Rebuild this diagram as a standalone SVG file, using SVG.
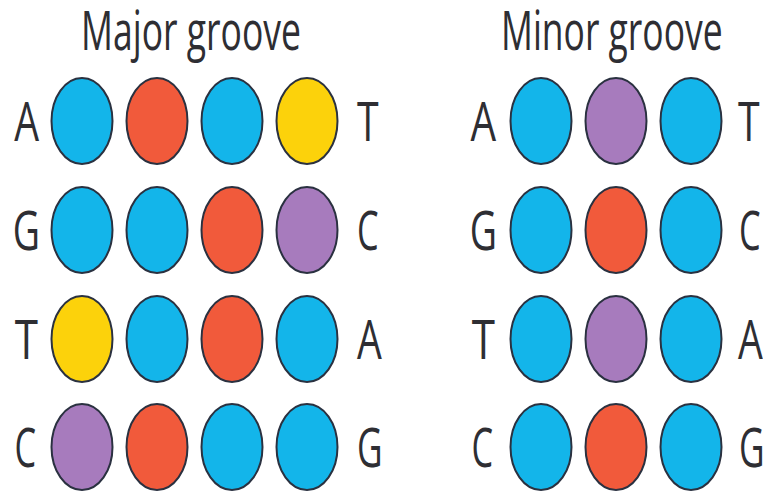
<svg xmlns="http://www.w3.org/2000/svg" width="763" height="493" viewBox="0 0 763 493">
  <style>
    text { font-family: "Open Sans", "Liberation Sans", sans-serif; font-size: 54px; font-weight: 380; fill: #2e2e33; }
    .end { text-anchor: end; }
    ellipse { stroke: #2a3140; stroke-width: 2; }
    .b { fill: #13b5ea; }
    .r { fill: #f15a3b; }
    .y { fill: #fcd20b; }
    .p { fill: #a77bbd; }
  </style>
  <rect width="763" height="493" fill="#ffffff"/>

  <!-- Major groove panel; text is narrowed horizontally by scale(0.8,1) -->
  <g id="major">
    <text transform="translate(81,50) scale(0.8,1)" textLength="275" lengthAdjust="spacingAndGlyphs">Major groove</text>
    <g id="major-row1">
      <text class="end" transform="translate(39,141) scale(0.8,1)" textLength="31" lengthAdjust="spacingAndGlyphs">A</text>
      <ellipse class="b" cx="82" cy="121" rx="30.5" ry="43"/>
      <ellipse class="r" cx="157" cy="121" rx="30.5" ry="43"/>
      <ellipse class="b" cx="232" cy="121" rx="30.5" ry="43"/>
      <ellipse class="y" cx="307" cy="121" rx="30.5" ry="43"/>
      <text transform="translate(357,141) scale(0.8,1)" textLength="27" lengthAdjust="spacingAndGlyphs">T</text>
    </g>
    <g id="major-row2">
      <text class="end" transform="translate(40,250) scale(0.8,1)" textLength="34" lengthAdjust="spacingAndGlyphs">G</text>
      <ellipse class="b" cx="82" cy="230" rx="30.5" ry="43"/>
      <ellipse class="b" cx="157" cy="230" rx="30.5" ry="43"/>
      <ellipse class="r" cx="232" cy="230" rx="30.5" ry="43"/>
      <ellipse class="p" cx="307" cy="230" rx="30.5" ry="43"/>
      <text transform="translate(357,250) scale(0.8,1)" textLength="27" lengthAdjust="spacingAndGlyphs">C</text>
    </g>
    <g id="major-row3">
      <text class="end" transform="translate(38,359) scale(0.8,1)" textLength="29" lengthAdjust="spacingAndGlyphs">T</text>
      <ellipse class="y" cx="82" cy="339" rx="30.5" ry="43"/>
      <ellipse class="b" cx="157" cy="339" rx="30.5" ry="43"/>
      <ellipse class="r" cx="232" cy="339" rx="30.5" ry="43"/>
      <ellipse class="b" cx="307" cy="339" rx="30.5" ry="43"/>
      <text transform="translate(357,359) scale(0.8,1)" textLength="31" lengthAdjust="spacingAndGlyphs">A</text>
    </g>
    <g id="major-row4">
      <text class="end" transform="translate(36,467) scale(0.8,1)" textLength="27" lengthAdjust="spacingAndGlyphs">C</text>
      <ellipse class="p" cx="82" cy="447" rx="30.5" ry="43"/>
      <ellipse class="r" cx="157" cy="447" rx="30.5" ry="43"/>
      <ellipse class="b" cx="232" cy="447" rx="30.5" ry="43"/>
      <ellipse class="b" cx="307" cy="447" rx="30.5" ry="43"/>
      <text transform="translate(357,467) scale(0.8,1)" textLength="32" lengthAdjust="spacingAndGlyphs">G</text>
    </g>
  </g>

  <!-- Minor groove panel -->
  <g id="minor">
    <text transform="translate(501,50) scale(0.8,1)" textLength="277" lengthAdjust="spacingAndGlyphs">Minor groove</text>
    <g id="minor-row1">
      <text class="end" transform="translate(496,141) scale(0.8,1)" textLength="32" lengthAdjust="spacingAndGlyphs">A</text>
      <ellipse class="b" cx="541" cy="121" rx="30.5" ry="43"/>
      <ellipse class="p" cx="616" cy="121" rx="30.5" ry="43"/>
      <ellipse class="b" cx="691" cy="121" rx="30.5" ry="43"/>
      <text transform="translate(738,141) scale(0.8,1)" textLength="27" lengthAdjust="spacingAndGlyphs">T</text>
    </g>
    <g id="minor-row2">
      <text class="end" transform="translate(497,250) scale(0.8,1)" textLength="34" lengthAdjust="spacingAndGlyphs">G</text>
      <ellipse class="b" cx="541" cy="230" rx="30.5" ry="43"/>
      <ellipse class="r" cx="616" cy="230" rx="30.5" ry="43"/>
      <ellipse class="b" cx="691" cy="230" rx="30.5" ry="43"/>
      <text transform="translate(739,250) scale(0.8,1)" textLength="27" lengthAdjust="spacingAndGlyphs">C</text>
    </g>
    <g id="minor-row3">
      <text class="end" transform="translate(495,359) scale(0.8,1)" textLength="29" lengthAdjust="spacingAndGlyphs">T</text>
      <ellipse class="b" cx="541" cy="339" rx="30.5" ry="43"/>
      <ellipse class="p" cx="616" cy="339" rx="30.5" ry="43"/>
      <ellipse class="b" cx="691" cy="339" rx="30.5" ry="43"/>
      <text transform="translate(738,359) scale(0.8,1)" textLength="31" lengthAdjust="spacingAndGlyphs">A</text>
    </g>
    <g id="minor-row4">
      <text class="end" transform="translate(493,467) scale(0.8,1)" textLength="27" lengthAdjust="spacingAndGlyphs">C</text>
      <ellipse class="b" cx="541" cy="447" rx="30.5" ry="43"/>
      <ellipse class="r" cx="616" cy="447" rx="30.5" ry="43"/>
      <ellipse class="b" cx="691" cy="447" rx="30.5" ry="43"/>
      <text transform="translate(739,467) scale(0.8,1)" textLength="32" lengthAdjust="spacingAndGlyphs">G</text>
    </g>
  </g>
</svg>
